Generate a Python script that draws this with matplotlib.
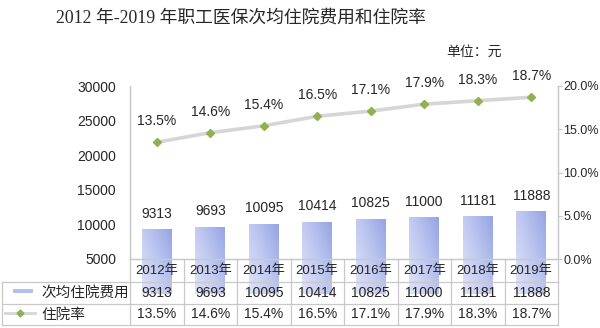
import matplotlib
matplotlib.use("Agg")
import matplotlib.pyplot as plt
import matplotlib.transforms as mtransforms
from matplotlib.lines import Line2D
from matplotlib.patches import Rectangle
from matplotlib.colors import LinearSegmentedColormap
import numpy as np

years = ["2012年", "2013年", "2014年", "2015年", "2016年", "2017年", "2018年", "2019年"]
cost = [9313, 9693, 10095, 10414, 10825, 11000, 11181, 11888]
rate = [13.5, 14.6, 15.4, 16.5, 17.1, 17.9, 18.3, 18.7]
cost_ticks = [5000, 10000, 15000, 20000, 25000, 30000]
rate_ticks = [0, 5, 10, 15, 20]
title = "2012 年-2019 年职工医保次均住院费用和住院率"
unit = "单位：元"
series_names = ["次均住院费用", "住院率"]

SANS = ["Liberation Sans", "Noto Sans CJK SC"]
SERIF = ["Liberation Serif", "Noto Sans CJK SC"]
plt.rcParams["font.family"] = SANS

W, H = 600, 328
fig = plt.figure(figsize=(W / 100, H / 100), dpi=100)
fig.patch.set_facecolor("white")

ax = fig.add_axes([130 / W, 1 - 259 / H, 428 / W, 173 / H])
ax2 = ax.twinx()

grid_col = "#c8c8c8"
text_col = "#262626"

x = np.arange(len(years))
ax.set_xlim(-0.5, len(years) - 0.5)
ax.set_ylim(cost_ticks[0], cost_ticks[-1])
ax2.set_ylim(rate_ticks[0], rate_ticks[-1])

# bars with a soft diagonal blue gradient
bars = ax.bar(x, cost, width=0.56, color="#b8c3f0", zorder=2)
grad_cmap = LinearSegmentedColormap.from_list("g", ["#e0e4f9", "#bfc8f1", "#94a5e2"])
gx, gy = np.meshgrid(np.linspace(0, 1, 60), np.linspace(0, 1, 60))
grad = 0.55 * gx + 0.45 * gy
for b in bars:
    x0, y0 = b.get_x(), b.get_y()
    w, h = b.get_width(), b.get_height()
    im = ax.imshow(grad, cmap=grad_cmap, extent=(x0, x0 + w, y0 + h, y0),
                   aspect="auto", zorder=2.5, interpolation="bilinear")
    im.set_clip_path(b)
ax.set_xlim(-0.5, len(years) - 0.5)
ax.set_ylim(cost_ticks[0], cost_ticks[-1])

for xi, v in zip(x, cost):
    ax.annotate(f"{v}", (xi, v), xytext=(0, 6), textcoords="offset points",
                ha="center", va="bottom", fontsize=10, color=text_col)

# rate line on the secondary axis
ax2.plot(x, rate, color="#d6d6d6", lw=2.6, zorder=3, solid_capstyle="round")
ax2.plot(x, rate, ls="none", marker="D", ms=4.5, color="#8db24e", zorder=4)
for xi, v in zip(x, rate):
    ax2.annotate(f"{v:.1f}%", (xi, v), xytext=(0, 10), textcoords="offset points",
                 ha="center", va="bottom", fontsize=10, color=text_col)

# axes styling
ax.set_yticks(cost_ticks)
ax.set_yticklabels([str(t) for t in cost_ticks], fontsize=10, color=text_col)
ax.tick_params(axis="y", length=0, pad=10)
ax.set_xticks([])
ax2.set_yticks(rate_ticks)
ax2.set_yticklabels([f"{t:.1f}%" for t in rate_ticks], fontsize=9, color=text_col)
ax2.tick_params(axis="y", length=3, width=0.8, color=grid_col, pad=1)
for a in (ax, ax2):
    a.spines["top"].set_visible(False)
    for s in ("left", "right", "bottom"):
        a.spines[s].set_color(grid_col)
        a.spines[s].set_linewidth(0.9)
ax.patch.set_visible(False)

# data table under the plot
tr = mtransforms.blended_transform_factory(ax.transData, fig.transFigure)
ftr = fig.transFigure


def fy(py):
    return 1 - py / H


row_edges = [259, 282, 304, 325]
left_px = 2
for py in row_edges[1:]:
    fig.add_artist(Line2D([left_px / W, 558 / W], [fy(py), fy(py)],
                          transform=ftr, color=grid_col, lw=0.9))
fig.add_artist(Line2D([left_px / W, left_px / W], [fy(row_edges[1]), fy(row_edges[3])],
                      transform=ftr, color=grid_col, lw=0.9))
for xb in np.arange(len(years) + 1) - 0.5:
    fig.add_artist(Line2D([xb, xb], [fy(row_edges[0]), fy(row_edges[3])],
                          transform=tr, color=grid_col, lw=0.9))

row_mid = [(row_edges[i] + row_edges[i + 1]) / 2 for i in range(3)]
for xi, yr, c, r in zip(x, years, cost, rate):
    fig.text(xi, fy(row_mid[0]), yr, transform=tr, ha="center", va="center",
             fontsize=9.5, color=text_col)
    fig.text(xi, fy(row_mid[1]), f"{c}", transform=tr, ha="center", va="center",
             fontsize=10, color=text_col)
    fig.text(xi, fy(row_mid[2]), f"{r:.1f}%", transform=tr, ha="center", va="center",
             fontsize=10, color=text_col)

# legend keys inside the table
fig.add_artist(Rectangle((13 / W, fy(293)), 20 / W, 4 / H, transform=ftr,
                         facecolor="#b3bff0", edgecolor="none"))
fig.add_artist(Line2D([5 / W, 35 / W], [fy(313), fy(313)], transform=ftr,
                      color="#d6d6d6", lw=2))
fig.add_artist(Line2D([20 / W], [fy(313)], transform=ftr, marker="D", ms=3.5,
                      color="#8db24e", ls="none"))
fig.text(41 / W, fy(row_mid[1]), series_names[0], ha="left", va="center",
         fontsize=10.5, color=text_col)
fig.text(41 / W, fy(row_mid[2]), series_names[1], ha="left", va="center",
         fontsize=10.5, color=text_col)

# title and unit note
fig.text(241 / W, fy(18), title, ha="center", va="center", fontsize=12.8,
         family=SERIF, color=text_col)
fig.text(502 / W, fy(52), unit, ha="right", va="center", fontsize=10,
         family=SERIF, color=text_col)

fig.savefig("out.png", dpi=100, facecolor="white")
